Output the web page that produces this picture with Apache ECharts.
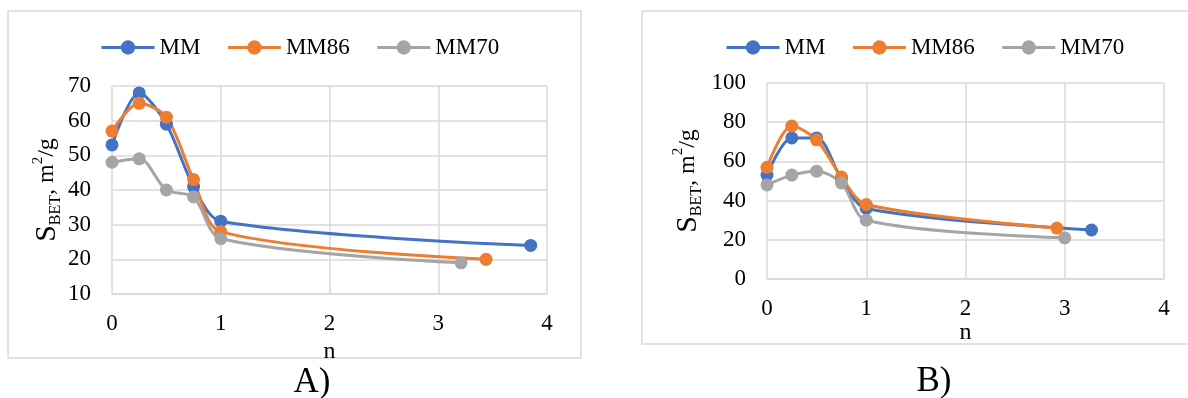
<!DOCTYPE html>
<html>
<head>
<meta charset="utf-8">
<script src="https://cdn.jsdelivr.net/npm/echarts@6/dist/echarts.min.js"></script>
<style>
html,body{margin:0;padding:0;background:#fff;}
#chart{width:1188px;height:398px;}
</style>
</head>
<body>
<div id="chart"></div>
<script>
// ---- data ----
const seriesNames = ['MM', 'MM86', 'MM70'];
const xTicks = [0, 1, 2, 3, 4];

// Panel A
const nA_MM   = [0, 0.25, 0.5, 0.75, 1, 3.85];
const sA_MM   = [53, 68, 59, 41, 31, 24];
const nA_MM86 = [0, 0.25, 0.5, 0.75, 1, 3.44];
const sA_MM86 = [57, 65, 61, 43, 28, 20];
const nA_MM70 = [0, 0.25, 0.5, 0.75, 1, 3.21];
const sA_MM70 = [48, 49, 40, 38, 26, 19];

// Panel B
const nB_MM   = [0, 0.25, 0.5, 0.75, 1, 3.27];
const sB_MM   = [53, 72, 72, 51, 36, 25];
const nB_MM86 = [0, 0.25, 0.5, 0.75, 1, 2.92];
const sB_MM86 = [57, 78, 71, 52, 38, 26];
const nB_MM70 = [0, 0.25, 0.5, 0.75, 1, 3.0];
const sB_MM70 = [48, 53, 55, 49, 30, 21];

const colors = ['#4472C4', '#ED7D31', '#A5A5A5'];
const FONT = "'Liberation Serif', 'Times New Roman', serif";

function pairs(xs, ys) { return xs.map((x, i) => [x, ys[i]]); }

const chart = echarts.init(document.getElementById('chart'), null, {renderer: 'canvas'});

const gridLine = {show: true, lineStyle: {color: '#d9d9d9', width: 1.5}};
const yName = '{s|S}{sub|BET}{t|, m}{sup|2}{t|/g}';
const yNameRich = {
  s:   {fontFamily: FONT, fontSize: 30, lineHeight: 34, verticalAlign: 'middle', color: '#000'},
  t:   {fontFamily: FONT, fontSize: 24, lineHeight: 34, verticalAlign: 'middle', color: '#000'},
  sub: {fontFamily: FONT, fontSize: 16, lineHeight: 16, verticalAlign: 'bottom', color: '#000'},
  sup: {fontFamily: FONT, fontSize: 15, lineHeight: 16, verticalAlign: 'top', color: '#000'}
};

function xAxis(gi) {
  return {
    type: 'value', gridIndex: gi, min: 0, max: 4, interval: 1,
    name: 'n', nameLocation: 'middle', nameGap: 29,
    nameTextStyle: {fontFamily: FONT, fontSize: 24, color: '#000'},
    axisLine: {show: true, lineStyle: {color: '#d9d9d9', width: 1.5}},
    axisTick: {show: false},
    axisLabel: {fontFamily: FONT, fontSize: 23, color: '#000', margin: 18,
      formatter: v => xTicks.includes(v) ? String(v) : ''},
    splitLine: gridLine
  };
}
function yAxis(gi, min, max, interval, gap) {
  return {
    type: 'value', gridIndex: gi, min: min, max: max, interval: interval,
    name: yName, nameLocation: 'middle', nameRotate: 90, nameGap: gap,
    nameTextStyle: {rich: yNameRich},
    axisLine: {show: false},
    axisTick: {show: false},
    axisLabel: {fontFamily: FONT, fontSize: 23, color: '#000', margin: 21},
    splitLine: gridLine
  };
}
function line(name, gi, data, ci) {
  return {
    name: name, type: 'line', xAxisIndex: gi, yAxisIndex: gi,
    data: data, smooth: 0.3, symbol: 'circle', symbolSize: 13,
    lineStyle: {color: colors[ci], width: 3},
    itemStyle: {color: colors[ci]},
    emphasis: {disabled: true}
  };
}
function legend(left) {
  return {
    data: seriesNames, left: left, top: 36, padding: 0,
    itemWidth: 53, itemHeight: 18, itemGap: 26,
    lineStyle: {width: 3},
    textStyle: {fontFamily: FONT, fontSize: 23, color: '#000'},
    selectedMode: false
  };
}

chart.setOption({
  animation: false,
  color: colors,
  legend: [legend(100), legend(725)],
  grid: [
    {left: 112, top: 86, width: 435, height: 208},
    {left: 767, top: 83, width: 397, height: 196}
  ],
  xAxis: [xAxis(0), xAxis(1)],
  yAxis: [yAxis(0, 10, 70, 10, 46), yAxis(1, 0, 100, 20, 62)],
  series: [
    line('MM', 0, pairs(nA_MM, sA_MM), 0),
    line('MM86', 0, pairs(nA_MM86, sA_MM86), 1),
    line('MM70', 0, pairs(nA_MM70, sA_MM70), 2),
    line('MM', 1, pairs(nB_MM, sB_MM), 0),
    line('MM86', 1, pairs(nB_MM86, sB_MM86), 1),
    line('MM70', 1, pairs(nB_MM70, sB_MM70), 2)
  ],
  graphic: [
    {type: 'rect', z: -1, shape: {x: 8, y: 11, width: 573, height: 347},
     style: {fill: 'none', stroke: '#d9d9d9', lineWidth: 1.5}},
    {type: 'rect', z: -1, shape: {x: 642, y: 11, width: 560, height: 333},
     style: {fill: 'none', stroke: '#d9d9d9', lineWidth: 1.5}},
    {type: 'text', x: 312, y: 383,
     style: {text: 'A)', font: "35px 'Liberation Serif', serif", fill: '#000', textAlign: 'center', textVerticalAlign: 'middle'}},
    {type: 'text', x: 934, y: 382,
     style: {text: 'B)', font: "35px 'Liberation Serif', serif", fill: '#000', textAlign: 'center', textVerticalAlign: 'middle'}}
  ]
});
</script>
</body>
</html>
